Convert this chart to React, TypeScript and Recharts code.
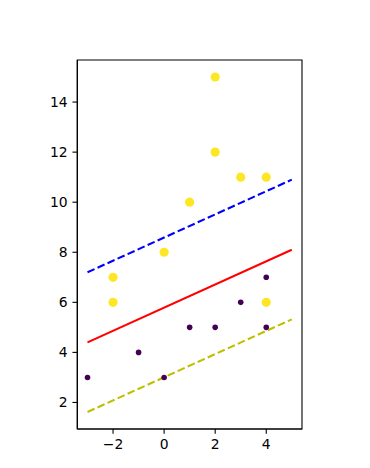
import React from 'react';
import { ScatterChart, Scatter, XAxis, YAxis, ReferenceLine, ReferenceArea } from 'recharts';

const purpleX = [-3, -1, 0, 1, 2, 3, 4, 4];
const purpleY = [3, 4, 3, 5, 5, 6, 5, 7];
const yellowX = [-2, -2, 0, 1, 2, 2, 3, 4, 4];
const yellowY = [6, 7, 8, 10, 12, 15, 11, 11, 6];

const lineX = [-3, 5];
const midY = [4.4, 8.1];
const upperY = [7.2, 10.9];
const lowerY = [1.62, 5.32];

const xTicks = [-2, 0, 2, 4];
const yTicks = [2, 4, 6, 8, 10, 12, 14];
const xDomain = [-3.4, 5.4];
const yDomain = [0.94, 15.68];

const purpleData = purpleX.map((x, i) => ({ x, y: purpleY[i] }));
const yellowData = yellowX.map((x, i) => ({ x, y: yellowY[i] }));
const seg = (ys: number[]) => lineX.map((x, i) => ({ x, y: ys[i] }));

const fmt = (v: number) => (v < 0 ? '\u2212' + Math.abs(v) : String(v));

const dot = (r: number, fill: string) => (props: any) => (
  <circle cx={props.cx} cy={props.cy} r={r} fill={fill} />
);

const tickStyle = { fill: '#000', fontSize: 13.9, fontFamily: 'DejaVu Sans' };

export default function App() {
  return (
    <div style={{ position: 'absolute', left: 0, top: 0, background: '#fff' }}>
      <ScatterChart width={370} height={468} margin={{ top: 60, right: 68, bottom: 9, left: 0 }}>
        <XAxis
          type="number"
          dataKey="x"
          domain={xDomain}
          ticks={xTicks}
          tickFormatter={fmt}
          allowDataOverflow
          height={30}
          tickSize={4.86}
          tickMargin={4.86}
          tick={tickStyle}
          axisLine={{ stroke: '#000', strokeWidth: 1.1 }}
          tickLine={{ stroke: '#000', strokeWidth: 1.1 }}
        />
        <YAxis
          type="number"
          dataKey="y"
          domain={yDomain}
          ticks={yTicks}
          tickFormatter={fmt}
          allowDataOverflow
          width={77.3}
          tickSize={4.86}
          tickMargin={4.86}
          tick={tickStyle}
          axisLine={{ stroke: '#000', strokeWidth: 1.1 }}
          tickLine={{ stroke: '#000', strokeWidth: 1.1 }}
        />
        <ReferenceArea
          x1={xDomain[0]}
          x2={xDomain[1]}
          y1={yDomain[0]}
          y2={yDomain[1]}
          fill="none"
          stroke="#000"
          strokeWidth={1.1}
          ifOverflow="visible"
        />
        <Scatter data={purpleData} fill="#440154" shape={dot(2.8, '#440154')} isAnimationActive={false} />
        <Scatter data={yellowData} fill="#fde725" shape={dot(4.6, '#fde725')} isAnimationActive={false} />
        <ReferenceLine segment={seg(midY)} stroke="#ff0000" strokeWidth={2.08} ifOverflow="visible" />
        <ReferenceLine segment={seg(upperY)} stroke="#0000ff" strokeWidth={2.08} strokeDasharray="7.7 3.3" ifOverflow="visible" />
        <ReferenceLine segment={seg(lowerY)} stroke="#bfbf00" strokeWidth={2.08} strokeDasharray="7.7 3.3" ifOverflow="visible" />
      </ScatterChart>
    </div>
  );
}
